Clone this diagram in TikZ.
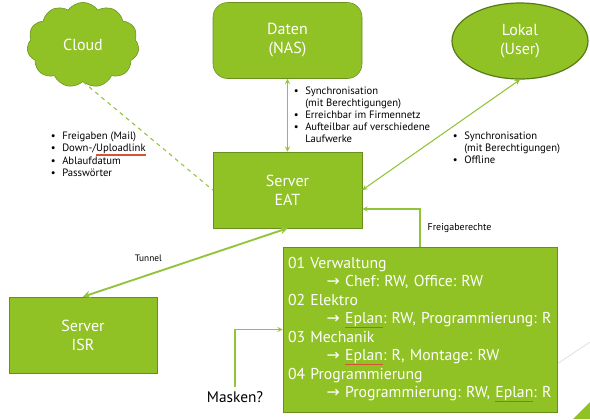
\documentclass[tikz,border=0pt]{standalone}
\usepackage{fontspec}
\setmainfont{PT Sans}
\newfontfamily\arrowfont{DejaVu Sans}
\usetikzlibrary{shapes.symbols,shapes.geometric,positioning,calc}

\definecolor{facetgreen}{RGB}{144,194,38}
\definecolor{facetdark}{RGB}{104,142,30}
\definecolor{linegreen}{RGB}{146,196,58}
\definecolor{spellred}{RGB}{212,84,52}

\newcommand{\arr}{{\arrowfont\char"2192}}
\newsavebox{\spellbox}
\newcommand{\spelled}[2][white]{%
  \sbox{\spellbox}{\textcolor{#1}{#2}}%
  \rlap{\textcolor{spellred}{\rule[-3pt]{\wd\spellbox}{1pt}}}\usebox{\spellbox}}
\frenchspacing

\tikzset{%
  box/.style={
    draw=facetdark,
    fill=facetgreen,
    text=white,
    align=center,
    font=\fontsize{12}{14.25}\selectfont,
    minimum width=111.75pt,
    minimum height=57pt
  },
  link/.style={draw=linegreen, line width=0.8pt},
  notes/.style={font=\fontsize{8}{9}\selectfont, align=left, inner sep=0pt, anchor=north west},
}

\begin{document}
\begin{tikzpicture}[x=0.75pt, y=-0.75pt, >=stealth]
\useasboundingbox (0,0) rectangle (590,419);

%=========================================================================================================
% Background decoration
%=========================================================================================================
\draw [black!15, line width=0.5pt] (557,364) -- (590,342);
\fill [facetgreen] (573,419) -- (590,402) -- (590,419) -- cycle;

%=========================================================================================================
% Storage nodes
%=========================================================================================================

%Cloud at the top left
\node [box, shape=cloud, cloud puffs=11, cloud puff arc=110, aspect=1.3,
       minimum width=84pt, minimum height=64pt, inner sep=0pt] (cloud) at (83,45) {Cloud};

%NAS with rounded corners
\node [box, rounded corners=11pt] (nas) at (287.5,40.5) {Daten\\(NAS)};

%Local copy of the user
\node [box, ellipse, draw=facetdark!85!black, line width=0.9pt,
       minimum width=102pt, minimum height=57pt] (lokal) at (520,41) {Lokal\\(User)};

%=========================================================================================================
% Servers
%=========================================================================================================
\node [box] (eat) at (287.5,190) {Server\\EAT};
\node [box, minimum width=111pt] (isr) at (83,335) {Server\\ISR};

%Folders with their rights
\node [box, align=left, text width=198pt, inner xsep=3.75pt, font=\fontsize{11.8}{13.9}\selectfont,
       minimum height=123.75pt] (rights) at (420,329.5) {%
  01 Verwaltung\\
  \hspace*{29pt}\arr\ Chef: RW, Office: RW\\
  02 Elektro\\
  \hspace*{29pt}\arr\ \spelled{Eplan}: RW, Programmierung: R\\
  03 Mechanik\\
  \hspace*{29pt}\arr\ \spelled{Eplan}: R, Montage: RW\\
  04 Programmierung\\
  \hspace*{29pt}\arr\ Programmierung: RW, \spelled{Eplan}: R};

\node [font=\fontsize{11.5}{14}\selectfont] (masken) at (235,397) {Masken?};

%=========================================================================================================
% Notes
%=========================================================================================================
\node [notes] (cloudnotes) at (50.5,131) {%
  \begin{tabular}{@{}l@{\hspace{5pt}}l@{}}
  \textbullet & Freigaben (Mail)\\
  \textbullet & Down-/\spelled[black]{Uploadlink}\\
  \textbullet & Ablaufdatum\\
  \textbullet & Passwörter
  \end{tabular}};

\node [notes] (nasnotes) at (293.5,86) {%
  \begin{tabular}{@{}l@{\hspace{5pt}}l@{}}
  \textbullet & Synchronisation\\
              & (mit Berechtigungen)\\
  \textbullet & Erreichbar im Firmennetz\\
  \textbullet & Aufteilbar auf verschiedene\\
              & Laufwerke
  \end{tabular}};

\node [notes] (lokalnotes) at (452.5,131) {%
  \begin{tabular}{@{}l@{\hspace{5pt}}l@{}}
  \textbullet & Synchronisation\\
              & (mit Berechtigungen)\\
  \textbullet & Offline
  \end{tabular}};

%=========================================================================================================
% Draw connections
%=========================================================================================================
\draw [link, <->] (nas) -- (eat);
\draw [link, <->] (lokal.south) -- (eat.east);
\draw [link, dashed] (cloud.south) -- (eat.west);
\draw [link, <->, line width=1.4pt] (eat.south) -- (isr.north)
  node [pos=0.68, above=6pt, text=black, font=\fontsize{7}{8}\selectfont] (tunnel) {Tunnel};
\draw [link, ->] (rights.north) |- ($(eat.east)+(0,19)$)
  node [pos=0.25, right=2pt, text=black, font=\fontsize{7.5}{9}\selectfont] (freigabe) {Freigaberechte};
\draw [link, ->] (masken.north) |- (rights.west);

\end{tikzpicture}
\end{document}
